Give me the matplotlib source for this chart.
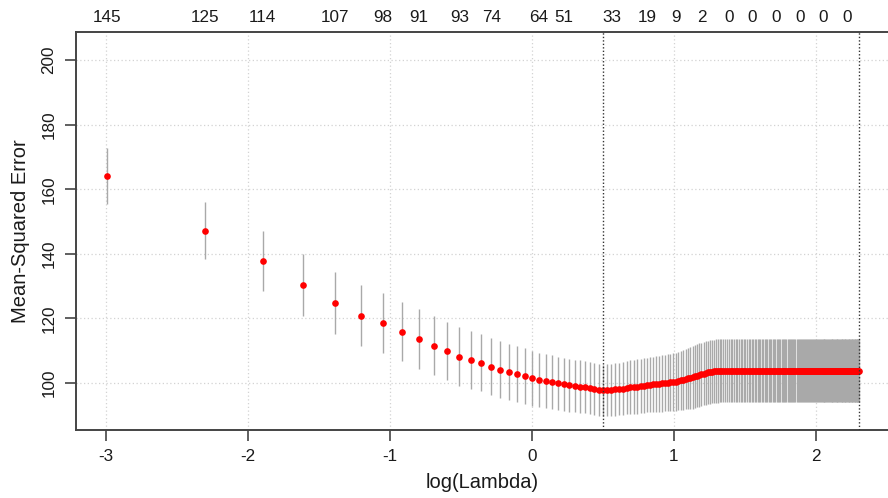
import numpy as np
import matplotlib.pyplot as plt

plt.rcParams['font.family'] = ['Liberation Sans', 'DejaVu Sans']
plt.rcParams['axes.unicode_minus'] = False

# lambda grid used in the cross-validation (0.05 .. 10 by 0.05)
lambdas = [
    0.05, 0.10, 0.15, 0.20, 0.25, 0.30, 0.35, 0.40, 0.45, 0.50, 0.55, 0.60, 0.65, 0.70, 0.75, 0.80, 0.85, 0.90, 0.95, 1.00,
    1.05, 1.10, 1.15, 1.20, 1.25, 1.30, 1.35, 1.40, 1.45, 1.50, 1.55, 1.60, 1.65, 1.70, 1.75, 1.80, 1.85, 1.90, 1.95, 2.00,
    2.05, 2.10, 2.15, 2.20, 2.25, 2.30, 2.35, 2.40, 2.45, 2.50, 2.55, 2.60, 2.65, 2.70, 2.75, 2.80, 2.85, 2.90, 2.95, 3.00,
    3.05, 3.10, 3.15, 3.20, 3.25, 3.30, 3.35, 3.40, 3.45, 3.50, 3.55, 3.60, 3.65, 3.70, 3.75, 3.80, 3.85, 3.90, 3.95, 4.00,
    4.05, 4.10, 4.15, 4.20, 4.25, 4.30, 4.35, 4.40, 4.45, 4.50, 4.55, 4.60, 4.65, 4.70, 4.75, 4.80, 4.85, 4.90, 4.95, 5.00,
    5.05, 5.10, 5.15, 5.20, 5.25, 5.30, 5.35, 5.40, 5.45, 5.50, 5.55, 5.60, 5.65, 5.70, 5.75, 5.80, 5.85, 5.90, 5.95, 6.00,
    6.05, 6.10, 6.15, 6.20, 6.25, 6.30, 6.35, 6.40, 6.45, 6.50, 6.55, 6.60, 6.65, 6.70, 6.75, 6.80, 6.85, 6.90, 6.95, 7.00,
    7.05, 7.10, 7.15, 7.20, 7.25, 7.30, 7.35, 7.40, 7.45, 7.50, 7.55, 7.60, 7.65, 7.70, 7.75, 7.80, 7.85, 7.90, 7.95, 8.00,
    8.05, 8.10, 8.15, 8.20, 8.25, 8.30, 8.35, 8.40, 8.45, 8.50, 8.55, 8.60, 8.65, 8.70, 8.75, 8.80, 8.85, 8.90, 8.95, 9.00,
    9.05, 9.10, 9.15, 9.20, 9.25, 9.30, 9.35, 9.40, 9.45, 9.50, 9.55, 9.60, 9.65, 9.70, 9.75, 9.80, 9.85, 9.90, 9.95, 10.00,
]

# mean cv error
cvm = [
    164.0, 147.2, 137.8, 130.4, 124.8, 120.9, 118.6, 115.9, 113.6, 111.6,
    109.9, 108.2, 107.1, 106.3, 105.1, 104.1, 103.4, 102.8, 102.1, 101.5,
    100.9, 100.6, 100.3, 99.9, 99.6, 99.3, 99.1, 98.9, 98.7, 98.4,
    98.1, 97.8, 97.7, 97.8, 97.9, 98.0, 98.2, 98.3, 98.5, 98.7,
    98.8, 98.9, 99.1, 99.2, 99.4, 99.5, 99.6, 99.7, 99.8, 99.9,
    100.0, 100.1, 100.2, 100.3, 100.4, 100.6, 100.8, 101.0, 101.2, 101.4,
    101.6, 101.8, 102.1, 102.3, 102.5, 102.7, 102.9, 103.1, 103.3, 103.4,
    103.5, 103.6, 103.7, 103.7, 103.8, 103.8, 103.8, 103.8, 103.8, 103.8,
] + [103.8] * 120

# standard error of the cv error
cvsd = [
    8.7, 8.9, 9.4, 9.6, 9.6, 9.5, 9.3, 9.2, 9.2, 9.1,
    9.0, 9.0, 8.9, 8.9, 8.8, 8.8, 8.7, 8.6, 8.6, 8.5,
    8.4, 8.4, 8.3, 8.3, 8.2, 8.2, 8.1, 8.1, 8.1, 8.0,
    8.0, 8.0, 8.0, 8.0, 8.0, 8.1, 8.1, 8.2, 8.2, 8.3,
    8.3, 8.4, 8.4, 8.5, 8.5, 8.6, 8.6, 8.7, 8.7, 8.8,
    8.8, 8.9, 8.9, 9.0, 9.0, 9.1, 9.2, 9.3, 9.4, 9.5,
    9.6, 9.7, 9.7, 9.8, 9.8, 9.8, 9.8, 9.8, 9.8, 9.8,
    9.8, 9.8, 9.8, 9.8, 9.8, 9.8, 9.8, 9.8, 9.8, 9.8,
] + [9.8] * 120

# number of nonzero coefficients shown along the top
nz_lambda = [0.05, 0.10, 0.15, 0.25, 0.35, 0.45, 0.60, 0.75, 1.05, 1.25,
             1.75, 2.25, 2.75, 3.30, 4.00, 4.70, 5.60, 6.60, 7.75, 9.20]
nz_labels = ['145', '125', '114', '107', '98', '91', '93', '74', '64', '51',
             '33', '19', '9', '2', '0', '0', '0', '0', '0', '0']

lambda_min = 1.65
lambda_1se = 10.0

x = np.log(lambdas)
cvm = np.array(cvm)
cvsd = np.array(cvsd)

fig = plt.figure(figsize=(8.88, 4.98), dpi=100)
ax = fig.add_axes([76 / 888, 68 / 498, 813 / 888, 398 / 498])

txt = '#1a1a1a'
axcol = '#444444'

# grid
for gx in [-3, -2, -1, 0, 1, 2]:
    ax.axvline(gx, color='#d3d3d3', lw=0.9, ls=(0, (1, 2)), zorder=0)
for gy in [100, 120, 140, 160, 180, 200]:
    ax.axhline(gy, color='#d3d3d3', lw=0.9, ls=(0, (1, 2)), zorder=0)

ax.vlines(x, cvm - cvsd, cvm + cvsd, color='#a9a9a9', lw=1.0, zorder=2)
ax.plot(x, cvm, 'o', color='#ff0000', markersize=4.8, markeredgewidth=0, zorder=3)

ax.axvline(np.log(lambda_min), color='#333333', lw=1.0, ls=(0, (1, 1.5)), zorder=4)
ax.axvline(np.log(lambda_1se), color='#333333', lw=1.0, ls=(0, (1, 1.5)), zorder=4)

ax.set_xlim(-3.212, 2.515)
ax.set_ylim(85.45, 208.7)

ax.set_xticks([-3, -2, -1, 0, 1, 2])
ax.set_yticks([100, 120, 140, 160, 180, 200])
ax.tick_params(axis='x', length=8, width=1.2, color=axcol, pad=6, labelsize=12.3, labelcolor=txt)
ax.tick_params(axis='y', length=8, width=1.2, color=axcol, pad=6, labelsize=12.3, labelcolor=txt)
for lab in ax.get_yticklabels():
    lab.set_rotation(90)
    lab.set_va('center')

for s in ['left', 'bottom', 'top']:
    ax.spines[s].set_color(axcol)
    ax.spines[s].set_linewidth(1.4)
ax.spines['right'].set_visible(False)

ax.set_xlabel('log(Lambda)', fontsize=14.5, color=txt, labelpad=6)
ax.set_ylabel('Mean-Squared Error', fontsize=14.5, color=txt, labelpad=8)

sec = ax.secondary_xaxis('top')
sec.set_xticks(np.log(nz_lambda))
sec.set_xticklabels(nz_labels)
sec.tick_params(length=0, pad=5, labelsize=12.3, labelcolor=txt)
sec.spines['top'].set_visible(False)

fig.savefig('out.png', dpi=100)
